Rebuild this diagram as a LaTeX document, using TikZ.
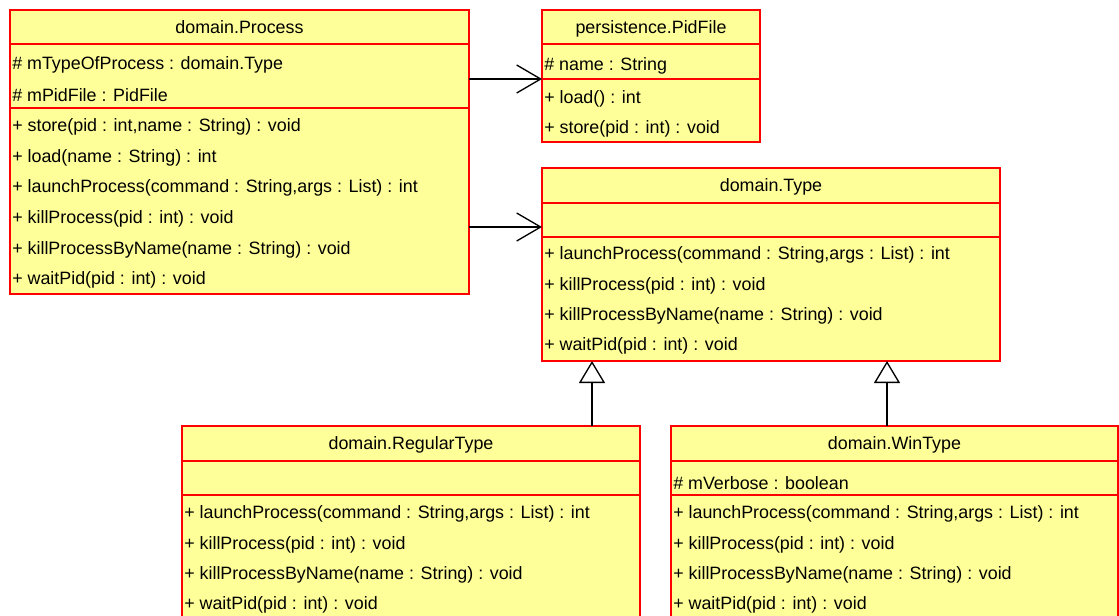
\documentclass[tikz,border=0pt]{standalone}
\usepackage{fontspec}
\setmainfont{Liberation Sans}
\usetikzlibrary{arrows.meta, positioning, calc}
\definecolor{UMLYellow}{RGB}{255, 255, 153}
\definecolor{UMLRed}{RGB}{255, 0, 0}

\begin{document}
\begin{tikzpicture}[x=0.75pt, y=-0.75pt, font=\fontsize{13.4}{16}\selectfont,
  part/.style={draw=UMLRed, fill=UMLYellow, line width=1.2pt, inner sep=0pt, outer sep=0pt,
    text height=9.6pt, text depth=0pt},
  member/.style={anchor=west, inner sep=0pt},
  assoc/.style={-{Straight Barb[length=18pt, width=21pt]}, line width=1pt},
  inherit/.style={-{Triangle[open, length=16.5pt, width=19.5pt, fill=white]}, line width=1pt}]
\useasboundingbox (0,0) rectangle (1119,615);
\clip (0,0) rectangle (1119,615);

% domain.Process
\node[part, anchor=north west, minimum width=459*0.75pt, minimum height=34*0.75pt] (proc) at (10,10) {domain.Process};
\node[part, below=0pt of proc, minimum width=459*0.75pt, minimum height=64*0.75pt] (proc-attr) {};
\node[part, below=0pt of proc-attr, minimum width=459*0.75pt, minimum height=186*0.75pt] (proc-ops) {};
\foreach \t [count=\i] in {{\# mTypeOfProcess : domain.Type}, {\# mPidFile : PidFile}}
  \node[member] at ($(proc-attr.north west)+(2,{21+30*(\i-1)})$) {\t};
\foreach \t [count=\i] in {{+ store(pid : int,name : String) : void}, {+ load(name : String) : int},
    {+ launchProcess(command : String,args : List) : int}, {+ killProcess(pid : int) : void},
    {+ killProcessByName(name : String) : void}, {+ waitPid(pid : int) : void}}
  \node[member] at ($(proc-ops.north west)+(2,{19+30.6*(\i-1)})$) {\t};

% persistence.PidFile
\node[part, anchor=north west, minimum width=218*0.75pt, minimum height=34*0.75pt] (pid) at (542,10) {persistence.PidFile};
\node[part, below=0pt of pid, minimum width=218*0.75pt, minimum height=35*0.75pt] (pid-attr) {};
\node[part, below=0pt of pid-attr, minimum width=218*0.75pt, minimum height=63*0.75pt] (pid-ops) {};
\node[member] at ($(pid-attr.west)+(2,4)$) {\# name : String};
\foreach \t [count=\i] in {{+ load() : int}, {+ store(pid : int) : void}}
  \node[member] at ($(pid-ops.north west)+(2,{20+30*(\i-1)})$) {\t};

% domain.Type
\node[part, anchor=north west, minimum width=458*0.75pt, minimum height=35*0.75pt] (type) at (542,168) {domain.Type};
\node[part, below=0pt of type, minimum width=458*0.75pt, minimum height=34*0.75pt] (type-attr) {};
\node[part, below=0pt of type-attr, minimum width=458*0.75pt, minimum height=124*0.75pt] (type-ops) {};
\foreach \t [count=\i] in {{+ launchProcess(command : String,args : List) : int}, {+ killProcess(pid : int) : void},
    {+ killProcessByName(name : String) : void}, {+ waitPid(pid : int) : void}}
  \node[member] at ($(type-ops.north west)+(2,{18+30.4*(\i-1)})$) {\t};

% domain.RegularType
\node[part, anchor=north west, minimum width=458*0.75pt, minimum height=35*0.75pt] (reg) at (182,426) {domain.RegularType};
\node[part, below=0pt of reg, minimum width=458*0.75pt, minimum height=34*0.75pt] (reg-attr) {};
\node[part, below=0pt of reg-attr, minimum width=458*0.75pt, minimum height=124*0.75pt] (reg-ops) {};
\foreach \t [count=\i] in {{+ launchProcess(command : String,args : List) : int}, {+ killProcess(pid : int) : void},
    {+ killProcessByName(name : String) : void}, {+ waitPid(pid : int) : void}}
  \node[member] at ($(reg-ops.north west)+(2,{19+30.4*(\i-1)})$) {\t};

% domain.WinType
\node[part, anchor=north west, minimum width=447*0.75pt, minimum height=35*0.75pt] (win) at (671,426) {domain.WinType};
\node[part, below=0pt of win, minimum width=447*0.75pt, minimum height=34*0.75pt] (win-attr) {};
\node[part, below=0pt of win-attr, minimum width=447*0.75pt, minimum height=124*0.75pt] (win-ops) {};
\node[member] at ($(win-attr.west)+(2,5)$) {\# mVerbose : boolean};
\foreach \t [count=\i] in {{+ launchProcess(command : String,args : List) : int}, {+ killProcess(pid : int) : void},
    {+ killProcessByName(name : String) : void}, {+ waitPid(pid : int) : void}}
  \node[member] at ($(win-ops.north west)+(2,{19+30.4*(\i-1)})$) {\t};

% associations
\draw[assoc] (proc.east |- pid-ops.north west) -- (pid-ops.north west);
\coordinate (tlink) at ($(type-attr.west)+(0,7)$);
\draw[assoc] (proc.east |- tlink) -- (tlink);

% generalisations
\coordinate (rlink) at ($(reg.north west)+(410,0)$);
\coordinate (wlink) at ($(win.north west)+(216,0)$);
\draw[inherit] (rlink) -- (rlink |- type-ops.south);
\draw[inherit] (wlink) -- (wlink |- type-ops.south);
\end{tikzpicture}
\end{document}
